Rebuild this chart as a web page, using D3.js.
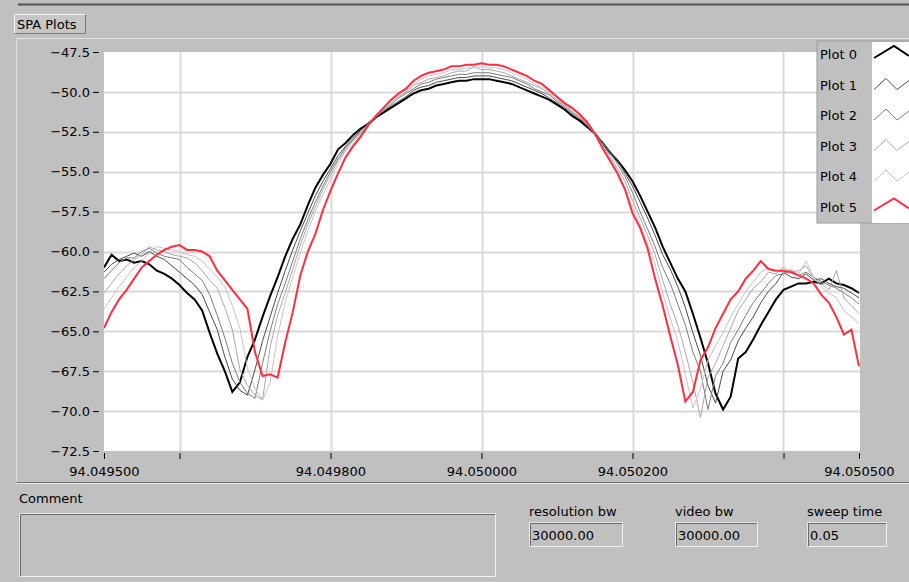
<!DOCTYPE html>
<html>
<head>
<meta charset="utf-8">
<title>SPA Plots</title>
<script src="https://cdn.jsdelivr.net/npm/d3@7"></script>
<style>
  body { margin: 0; background: #c0c0c0; }
  svg { display: block; font-family: "DejaVu Sans", sans-serif; }
</style>
</head>
<body>
<script>
// Sample frequencies (MHz) shared by every plot
var freqs = [
  94.04950, 94.04951, 94.04952, 94.04953, 94.04954, 94.04955, 94.04956, 94.04957, 94.04958, 94.04959,
  94.04960, 94.04961, 94.04962, 94.04963, 94.04964, 94.04965, 94.04966, 94.04967, 94.04968, 94.04969,
  94.04970, 94.04971, 94.04972, 94.04973, 94.04974, 94.04975, 94.04976, 94.04977, 94.04978, 94.04979,
  94.04980, 94.04981, 94.04982, 94.04983, 94.04984, 94.04985, 94.04986, 94.04987, 94.04988, 94.04989,
  94.04990, 94.04991, 94.04992, 94.04993, 94.04994, 94.04995, 94.04996, 94.04997, 94.04998, 94.04999,
  94.05000, 94.05001, 94.05002, 94.05003, 94.05004, 94.05005, 94.05006, 94.05007, 94.05008, 94.05009,
  94.05010, 94.05011, 94.05012, 94.05013, 94.05014, 94.05015, 94.05016, 94.05017, 94.05018, 94.05019,
  94.05020, 94.05021, 94.05022, 94.05023, 94.05024, 94.05025, 94.05026, 94.05027, 94.05028, 94.05029,
  94.05030, 94.05031, 94.05032, 94.05033, 94.05034, 94.05035, 94.05036, 94.05037, 94.05038, 94.05039,
  94.05040, 94.05041, 94.05042, 94.05043, 94.05044, 94.05045, 94.05046, 94.05047, 94.05048, 94.05049,
  94.05050
];

// Level (dBm) of each sweep
var plot0 = [
  -61.0, -60.2, -60.6, -60.5, -60.7, -60.6, -60.8, -61.2, -61.4, -61.7,
  -62.1, -62.6, -63.0, -63.7, -65.1, -66.4, -67.5, -68.8, -68.2, -66.6,
  -65.5, -64.1, -62.8, -61.6, -60.3, -59.2, -58.3, -57.1, -56.0, -55.2,
  -54.5, -53.6, -53.2, -52.7, -52.3, -52.0, -51.6, -51.3, -51.0, -50.7,
  -50.4, -50.1, -49.9, -49.8, -49.6, -49.5, -49.4, -49.3, -49.3, -49.2,
  -49.2, -49.2, -49.3, -49.4, -49.5, -49.7, -49.9, -50.1, -50.3, -50.5,
  -50.8, -51.1, -51.5, -51.8, -52.2, -52.6, -53.2, -53.8, -54.3, -54.9,
  -55.6, -56.5, -57.5, -58.5, -59.7, -60.7, -61.7, -62.5, -63.9, -65.4,
  -67.0, -68.9, -69.9, -69.1, -66.7, -66.3, -65.5, -64.6, -63.8, -63.0,
  -62.4, -62.2, -62.0, -62.0, -61.9, -62.0, -61.7, -62.0, -62.1, -62.3,
  -62.6
];
var plot1 = [
  -61.3, -60.8, -60.5, -60.3, -60.1, -60.3, -60.0, -60.3, -60.5, -60.9,
  -61.3, -61.7, -62.1, -62.7, -63.8, -64.9, -66.6, -68.0, -68.7, -69.0,
  -67.4, -65.6, -64.1, -62.6, -61.2, -59.9, -58.7, -57.6, -56.5, -55.6,
  -54.8, -54.0, -53.4, -52.9, -52.4, -52.0, -51.6, -51.2, -50.9, -50.6,
  -50.3, -49.9, -49.7, -49.6, -49.4, -49.3, -49.2, -49.1, -49.1, -49.0,
  -49.0, -49.0, -49.1, -49.2, -49.3, -49.5, -49.7, -49.9, -50.1, -50.4,
  -50.7, -51.0, -51.4, -51.7, -52.1, -52.6, -53.1, -53.7, -54.3, -55.1,
  -55.9, -56.9, -57.9, -59.0, -60.2, -61.1, -62.2, -63.5, -65.1, -66.5,
  -68.4, -69.5, -67.5, -66.8, -65.6, -64.8, -64.1, -63.2, -62.5, -62.0,
  -61.3, -61.6, -61.7, -61.4, -61.8, -61.7, -62.0, -62.2, -62.3, -62.6,
  -62.9
];
var plot2 = [
  -61.7, -61.2, -60.7, -60.4, -60.4, -60.0, -59.8, -60.1, -60.3, -60.4,
  -60.5, -61.0, -61.4, -61.8, -62.7, -64.0, -65.4, -67.0, -68.2, -68.9,
  -69.2, -67.0, -65.0, -63.3, -62.0, -60.6, -59.2, -58.0, -56.9, -55.9,
  -55.0, -54.2, -53.5, -53.0, -52.5, -52.1, -51.5, -51.2, -50.8, -50.4,
  -50.1, -49.8, -49.5, -49.4, -49.2, -49.1, -49.0, -48.9, -48.9, -48.8,
  -48.8, -48.8, -48.9, -49.0, -49.1, -49.3, -49.5, -49.8, -50.0, -50.2,
  -50.6, -50.9, -51.3, -51.6, -52.1, -52.6, -53.2, -53.8, -54.5, -55.3,
  -56.3, -57.5, -58.6, -59.7, -61.0, -62.0, -63.3, -64.6, -66.3, -67.5,
  -69.9, -67.8, -67.0, -65.7, -64.9, -64.0, -63.2, -62.6, -62.0, -61.5,
  -61.4, -61.2, -61.5, -61.3, -61.6, -61.9, -62.1, -62.3, -62.6, -62.9,
  -63.3
];
var plot3 = [
  -62.6, -62.0, -61.4, -60.9, -60.5, -60.2, -59.7, -59.9, -60.0, -60.2,
  -60.3, -60.4, -60.7, -61.2, -61.8, -62.3, -63.5, -64.9, -67.4, -68.4,
  -69.0, -69.3, -66.0, -64.0, -62.6, -61.1, -59.6, -58.3, -57.2, -56.1,
  -55.2, -54.3, -53.6, -53.1, -52.6, -52.0, -51.6, -51.1, -50.7, -50.3,
  -50.0, -49.6, -49.4, -49.2, -49.1, -49.0, -48.8, -48.7, -48.7, -48.4,
  -48.6, -48.6, -48.7, -48.8, -49.0, -49.2, -49.4, -49.6, -49.8, -50.1,
  -50.5, -50.8, -51.2, -51.6, -52.0, -52.7, -53.3, -54.0, -54.8, -55.6,
  -56.8, -57.9, -59.0, -60.2, -61.8, -63.3, -64.6, -66.3, -68.2, -70.4,
  -67.9, -67.0, -65.9, -64.8, -63.7, -63.0, -62.3, -61.9, -61.3, -61.4,
  -61.0, -61.3, -61.2, -60.9, -61.7, -62.0, -62.4, -61.2, -62.9, -63.4,
  -63.9
];
var plot4 = [
  -63.6, -62.9, -62.2, -61.6, -61.0, -60.6, -60.1, -59.7, -59.8, -59.9,
  -60.0, -60.2, -60.3, -60.6, -61.1, -61.6, -62.2, -63.4, -64.8, -67.3,
  -68.6, -69.3, -68.2, -65.3, -63.2, -61.6, -60.1, -58.7, -57.5, -56.4,
  -55.5, -54.5, -53.7, -53.3, -52.7, -52.1, -51.5, -51.0, -50.6, -50.2,
  -49.9, -49.5, -49.2, -49.0, -48.9, -48.8, -48.6, -48.6, -48.5, -48.5,
  -48.4, -48.5, -48.5, -48.6, -48.8, -49.0, -49.2, -49.5, -49.7, -50.0,
  -50.4, -50.7, -51.1, -51.5, -52.0, -52.6, -53.4, -54.1, -55.0, -56.0,
  -57.2, -58.3, -59.5, -60.8, -62.6, -64.2, -65.6, -67.7, -69.8, -68.6,
  -66.8, -65.9, -65.1, -64.1, -63.3, -62.5, -61.9, -61.3, -61.0, -61.2,
  -61.3, -61.1, -61.4, -60.6, -61.6, -62.2, -62.6, -62.9, -63.7, -64.1,
  -64.5
];
var plot5 = [
  -64.8, -63.8, -63.0, -62.4, -61.7, -61.0, -60.6, -60.2, -59.9, -59.7,
  -59.6, -59.9, -59.9, -60.0, -60.3, -61.2, -61.8, -62.4, -63.0, -63.6,
  -66.3, -67.8, -67.7, -67.9, -65.7, -63.8, -61.5, -60.0, -58.9, -57.4,
  -56.2, -55.1, -54.1, -53.4, -52.8, -52.1, -51.5, -51.0, -50.5, -50.1,
  -49.8, -49.3, -49.0, -48.8, -48.7, -48.6, -48.4, -48.4, -48.3, -48.3,
  -48.2, -48.3, -48.3, -48.4, -48.6, -48.8, -49.0, -49.3, -49.5, -49.9,
  -50.3, -50.7, -51.0, -51.4, -51.9, -52.6, -53.5, -54.3, -55.1, -56.1,
  -57.6, -58.5, -59.8, -61.7, -63.4, -65.3, -67.1, -69.4, -68.8, -66.8,
  -66.0, -64.8, -63.9, -63.0, -62.5, -61.7, -61.2, -60.6, -61.1, -61.2,
  -61.2, -61.3, -61.5, -61.7, -62.0, -62.7, -63.2, -64.1, -65.2, -64.9,
  -67.2
];

var plotNames = ["Plot 0", "Plot 1", "Plot 2", "Plot 3", "Plot 4", "Plot 5"];
var plotColors = ["#000000", "#4a4a4a", "#7c7c7c", "#a9a9a9", "#cdbfca", "#ff2d3f"];
var plotWidths = [2, 1, 1, 1, 1, 2];
var plots = [plot0, plot1, plot2, plot3, plot4, plot5];

// Axis ticks and their labels
var yTicks = [-47.5, -50.0, -52.5, -55.0, -57.5, -60.0, -62.5, -65.0, -67.5, -70.0, -72.5];
var xTicks = [94.0495, 94.0496, 94.0498, 94.0500, 94.0502, 94.0504, 94.0505];
var xTickLabels = ["94.049500", "", "94.049800", "94.050000", "94.050200", "", "94.050500"];
var xGrid = [94.0496, 94.0498, 94.0500, 94.0502, 94.0504];
var yGrid = [-50.0, -52.5, -55.0, -57.5, -60.0, -62.5, -65.0, -67.5, -70.0];

// Front panel indicators
var fieldLabels = ["resolution bw", "video bw", "sweep time"];
var fieldValues = ["30000.00", "30000.00", "0.05"];

drawPanel();

function drawPanel() {
  var width = 909;
  var height = 582;
  var plotLeft = 104, plotRight = 860, plotTop = 52, plotBottom = 451;

  var svg = d3.select("body").append("svg")
      .attr("width", width)
      .attr("height", height);

  // Gray panel background
  svg.append("rect")
      .attr("width", width).attr("height", height)
      .attr("fill", "#c0c0c0");

  // Dark rule along the top and the raised frame round the graph
  svg.append("line")
      .attr("x1", 18).attr("x2", width).attr("y1", 4.5).attr("y2", 4.5)
      .attr("stroke", "#505050").attr("stroke-width", 2);
  svg.append("path")
      .attr("d", "M16.5,481 V38.5 H" + width)
      .attr("fill", "none").attr("stroke", "#e2e2e2");

  // Graph caption button
  var cap = svg.append("g").attr("transform", "translate(14,14)");
  cap.append("rect").attr("width", 72).attr("height", 20).attr("fill", "#c6c6c6");
  cap.append("path").attr("d", "M0.5,19.5 V0.5 H71.5").attr("fill", "none").attr("stroke", "#f4f4f4");
  cap.append("path").attr("d", "M0.5,19.5 H71.5 V0.5").attr("fill", "none").attr("stroke", "#7a7a7a");
  cap.append("text").attr("x", 3).attr("y", 15).attr("font-size", 13).text("SPA Plots");

  var x = d3.scaleLinear().domain([94.0495, 94.0505]).range([plotLeft, 859]);
  var y = d3.scaleLinear().domain([-72.5, -47.5]).range([plotBottom, plotTop]);

  // White plotting area
  svg.append("rect")
      .attr("x", plotLeft).attr("y", plotTop)
      .attr("width", plotRight - plotLeft).attr("height", plotBottom - plotTop)
      .attr("fill", "#ffffff");

  // Grid lines
  svg.append("g").selectAll("line")
      .data(xGrid)
      .enter().append("line")
        .attr("x1", function(d) { return Math.round(x(d)) + 0.5; })
        .attr("x2", function(d) { return Math.round(x(d)) + 0.5; })
        .attr("y1", plotTop).attr("y2", plotBottom)
        .attr("stroke", "#d9d9d9").attr("stroke-width", 2);
  svg.append("g").selectAll("line")
      .data(yGrid)
      .enter().append("line")
        .attr("x1", plotLeft).attr("x2", plotRight)
        .attr("y1", function(d) { return Math.round(y(d)) + 0.5; })
        .attr("y2", function(d) { return Math.round(y(d)) + 0.5; })
        .attr("stroke", "#d9d9d9").attr("stroke-width", 2);

  svg.append("clipPath").attr("id", "plotClip")
    .append("rect")
      .attr("x", plotLeft).attr("y", plotTop)
      .attr("width", plotRight - plotLeft).attr("height", plotBottom - plotTop);

  var line = d3.line()
      .x(function(d, i) { return x(freqs[i]); })
      .y(function(d) { return y(d); });

  // One trace per sweep, plot 0 first so the red one sits on top
  svg.append("g")
      .attr("clip-path", "url(#plotClip)")
    .selectAll("path")
    .data(plots)
    .enter().append("path")
      .attr("d", line)
      .attr("fill", "none")
      .attr("stroke", function(d, i) { return plotColors[i]; })
      .attr("stroke-width", function(d, i) { return plotWidths[i]; })
      .attr("stroke-linejoin", "miter");

  // Axes
  var yAxis = svg.append("g")
      .attr("transform", "translate(99,0)")
      .call(d3.axisLeft(y).tickValues(yTicks).tickSize(6).tickPadding(3)
        .tickFormat(d3.format(".1f")));
  var xAxis = svg.append("g")
      .attr("transform", "translate(0,453)")
      .call(d3.axisBottom(x).tickValues(xTicks).tickSize(6).tickPadding(8)
        .tickFormat(function(d, i) { return xTickLabels[i]; }));
  [yAxis, xAxis].forEach(function(ax) {
    ax.select(".domain").remove();
    ax.attr("font-family", null).attr("font-size", 13);
    ax.selectAll("line").attr("stroke", "#000");
    ax.selectAll("text").attr("fill", "#000");
  });

  // Legend with its white swatch column
  var legend = svg.append("g").attr("transform", "translate(817,41)");
  legend.append("rect").attr("width", 95).attr("height", 182)
      .attr("fill", "#c0c0c0").attr("stroke", "#9a9a9a");
  legend.append("rect").attr("x", 55).attr("y", 1).attr("width", 40).attr("height", 181)
      .attr("fill", "#ffffff");
  var rows = legend.selectAll(".row")
      .data(plotNames)
      .enter().append("g")
        .attr("class", "row")
        .attr("transform", function(d, i) { return "translate(0," + (13 + i * 30.5) + ")"; });
  rows.append("text")
      .attr("x", 3).attr("y", 5)
      .attr("font-size", 13)
      .text(function(d) { return d; });
  rows.append("path")
      .attr("d", function(d, i) {
        if (i === 0 || i === 5) return "M57,4 L77,-8 L92,2";
        return "M57,5 L69,-6 L80,5 L92,-4";
      })
      .attr("fill", "none")
      .attr("stroke", function(d, i) { return plotColors[i]; })
      .attr("stroke-width", function(d, i) { return plotWidths[i]; });

  // Separator between graph and the controls underneath
  svg.append("line").attr("x1", 17).attr("x2", width).attr("y1", 482.5).attr("y2", 482.5)
      .attr("stroke", "#6e6e6e");
  svg.append("line").attr("x1", 17).attr("x2", width).attr("y1", 483.5).attr("y2", 483.5)
      .attr("stroke", "#e6e6e6");

  svg.append("text").attr("x", 19).attr("y", 503).attr("font-size", 13).text("Comment");
  sunkenBox(svg, 19, 513, 477, 64);

  var fieldX = [529, 675, 807];
  var fieldW = [94, 83, 80];
  fieldLabels.forEach(function(label, i) {
    svg.append("text").attr("x", fieldX[i]).attr("y", 516).attr("font-size", 13).text(label);
    sunkenBox(svg, fieldX[i], 522, fieldW[i], 25);
    svg.append("text").attr("x", fieldX[i] + 3).attr("y", 540).attr("font-size", 13).text(fieldValues[i]);
  });
}

// Draws a recessed LabVIEW style box
function sunkenBox(svg, bx, by, bw, bh) {
  var g = svg.append("g").attr("transform", "translate(" + bx + "," + by + ")");
  g.append("path").attr("d", "M0.5," + bh + " V0.5 H" + bw)
      .attr("fill", "none").attr("stroke", "#e8e8e8");
  g.append("path").attr("d", "M1.5," + (bh - 1) + " V1.5 H" + (bw - 1))
      .attr("fill", "none").attr("stroke", "#6a6a6a");
  g.append("path").attr("d", "M1.5," + (bh - 0.5) + " H" + (bw - 0.5) + " V1.5")
      .attr("fill", "none").attr("stroke", "#f2f2f2");
}
</script>
</body>
</html>
